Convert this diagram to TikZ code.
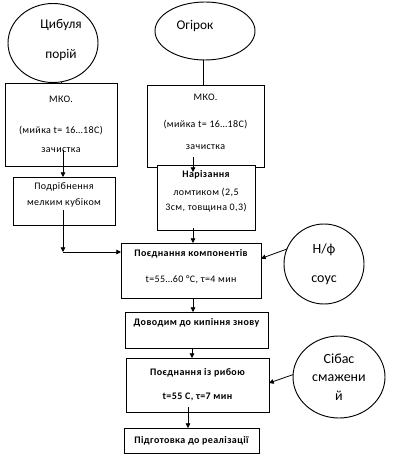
\documentclass[tikz,border=0pt]{standalone}
\usepackage{fontspec}
\setmainfont{Carlito}
\usetikzlibrary{arrows.meta,positioning,shapes.geometric,calc}
\tikzset{
    stage/.style={draw, line width=0.7pt, inner sep=0pt, outer sep=0pt,
        align=center, font=\fontsize{7.5}{9}\selectfont\addfontfeature{LetterSpace=4}},
    source/.style={draw, ellipse, line width=0.7pt, inner sep=0pt,
        outer sep=0pt, align=center, font=\fontsize{10.5}{12.6}\selectfont},
    caption/.style={inner sep=0pt, align=center,
        font=\fontsize{10}{12}\selectfont},
    flow/.style={line width=0.6pt, -{Triangle[length=3.5pt,width=3.5pt]}},
    link/.style={line width=0.6pt}
}

\begin{document}
\begin{tikzpicture}[x=0.75pt, y=-0.75pt]
    \useasboundingbox (0,0) rectangle (400,466);

    % raw products
    \node[source, minimum width=67.5pt, minimum height=59.25pt] (cyb) at (53,43) {};
    \node[caption] (cybtxt) at (61,40) {Цибуля\\[10.5pt]порій};
    \node[source, minimum width=75pt, minimum height=43.5pt] (ogir) at (205,31) {};
    \node[caption] (ogirtxt) at (195,26) {Огірок};

    % onion line
    \node[stage, minimum width=84pt, minimum height=62.25pt] (mkoA) at (61,124.5)
        {МКО.\\[14.25pt](мийка t= 16…18С)\\[5.25pt]зачистка};
    \node[stage, minimum width=76.5pt, minimum height=36pt] (podr) at (64,201)
        {Подрібнення\\[3pt]мелким кубіком\\[2pt]\mbox{}};

    % cucumber line
    \node[stage, minimum width=87.75pt, minimum height=61.5pt] (mkoB) at (205.5,126)
        {МКО.\\[11.25pt](мийка t= 16…18С)\\[7.5pt]зачистка\\[-2pt]\mbox{}};
    \node[stage, minimum width=73.5pt, minimum height=48.75pt, fill=white] (nariz) at (206,197.5)
        {\bfseries Нарізання\\[4.5pt]ломтиком (2,5\\[2.25pt]3см, товщина 0,3)\\[2pt]\mbox{}};

    % main line
    \node[stage, minimum width=105pt, minimum height=41.25pt] (poedn) at (191,270.5)
        {\bfseries Поєднання компонентів\\[10.5pt]t=55…60 °C, τ=4 мин\\[-2pt]\mbox{}};
    \node[stage, minimum width=107.25pt, minimum height=27pt] (dovod) at (196.5,330)
        {\bfseries Доводим до кипіння знову\\[3.5pt]\mbox{}};
    \node[stage, minimum width=107.25pt, minimum height=40.5pt] (ryba) at (197.5,385)
        {\bfseries Поєднання із рибою\\[9pt]\bfseries t=55 С, τ=7 мин};
    \node[stage, minimum width=101.25pt, minimum height=18.75pt] (pidg) at (191.5,440.5)
        {\bfseries Підготовка до реалізації};

    % additions
    \node[source, circle, minimum size=60pt] (sous) at (324,264) {Н/ф\\[9pt]соус};
    \node[source, minimum width=69pt, minimum height=61.5pt] (sibas) at (339,377)
        {Сібас\\[1.5pt]смажени\\[1.5pt]й};

    \coordinate (join) at (63,252);

    \draw[link] (cyb.-78) -- (cyb.-78 |- mkoA.north);
    \draw[link] (ogir.-93) -- (ogir.-93 |- mkoB.north);
    \draw[flow] ([xshift=1.5pt,yshift=12pt]mkoA.south) -- ([xshift=-0.75pt]podr.north);
    \draw[flow] ([xshift=-0.75pt,yshift=11.25pt]podr.south) -- (join);
    \draw[flow] (join) -- (join -| poedn.west);
    \draw[flow] ([xshift=-9.375pt,yshift=7.5pt]mkoB.south) -- ([xshift=-9.75pt,yshift=-5.25pt]nariz.north);
    \draw[flow] ([xshift=-9.75pt,yshift=1.5pt]nariz.south) -- ([xshift=1.5pt]poedn.north);
    \draw[flow] (sous.158) -- ([yshift=9pt]poedn.east);
    \draw[flow] ([xshift=1.5pt]poedn.south) -- ([xshift=-2.625pt]dovod.north);
    \draw[flow] ([xshift=-3.375pt]dovod.south) -- ([xshift=-4.125pt]ryba.north);
    \draw[flow] (sibas.177) -- ([yshift=1.5pt]ryba.east);
    \draw[flow] ([xshift=-7.125pt,yshift=3.75pt]ryba.south) -- ([xshift=-2.625pt]pidg.north);

\end{tikzpicture}
\end{document}
